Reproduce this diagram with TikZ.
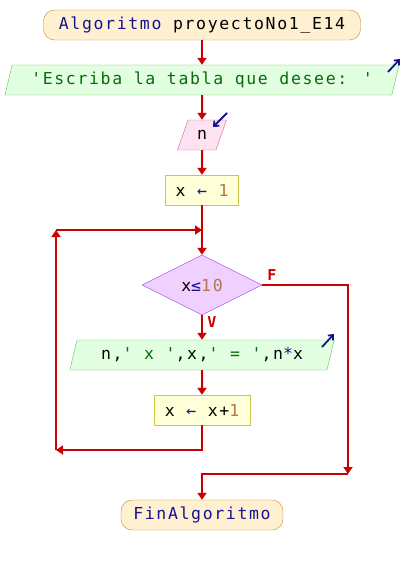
\documentclass[tikz,border=0pt]{standalone}
\usepackage{fontspec}
\usepackage{xcolor}
\usetikzlibrary{shapes.geometric}
\usetikzlibrary{arrows.meta}
\newfontfamily\psfont[Ligatures=TeXOff,LetterSpace=10]{DejaVu Sans Mono}
\definecolor{kwblue}{HTML}{14148C}
\definecolor{numbrown}{HTML}{B07850}
\definecolor{strgreen}{HTML}{0A6A0A}
\definecolor{flowred}{HTML}{CC0000}
\definecolor{termfill}{HTML}{FFF0D2}
\definecolor{termline}{HTML}{C88A30}
\definecolor{outfill}{HTML}{E2FFE2}
\definecolor{outline}{HTML}{60C060}
\definecolor{infill}{HTML}{FFE2F2}
\definecolor{inline}{HTML}{D06090}
\definecolor{setfill}{HTML}{FFFFD8}
\definecolor{setline}{HTML}{C8C848}
\definecolor{condfill}{HTML}{F0D0FF}
\definecolor{condline}{HTML}{A050E0}
\newcommand{\kw}[1]{{\color{kwblue}#1}}
\newcommand{\num}[1]{{\color{numbrown}#1}}
\newcommand{\str}[1]{{\color{strgreen}#1}}
\newcommand{\q}{\char"27\relax}

\begin{document}
\begin{tikzpicture}[x=1pt,y=-1pt,
    every node/.style={font=\psfont\fontsize{16.5}{18}\selectfont,inner sep=0pt},
    term/.style={draw=termline,fill=termfill,rounded corners=11pt,minimum height=30pt},
    outbox/.style={trapezium,trapezium left angle=68,trapezium right angle=112,
      trapezium stretches=true,draw=outline,fill=outfill,minimum height=30pt},
    inbox/.style={outbox,draw=inline,fill=infill},
    setbox/.style={rectangle,draw=setline,fill=setfill,minimum height=30pt},
    condbox/.style={diamond,draw=condline,fill=condfill,minimum width=120pt,minimum height=60pt},
    flow/.style={draw=flowred,line width=2pt,-{Triangle[width=9pt,length=7pt]}},
    flowline/.style={draw=flowred,line width=2pt},
    icon/.style={draw=kwblue,line width=1.8pt,-{Straight Barb[length=4pt,width=7pt]}},
    tag/.style={text=flowred,font=\psfont\bfseries\fontsize{15}{16}\selectfont}
  ]
    \useasboundingbox (0,0) rectangle (404,565);

    % blocks
    \node[term,minimum width=317pt] (start) at (202,25) {\kw{Algoritmo} proyectoNo1\_E14};
    \node[outbox,minimum width=396pt] (out1) at (202,80) {\str{\q Escriba la tabla que desee: \q}};
    \node[inbox,minimum width=49pt] (in1) at (202,135) {n};
    \node[setbox,minimum width=73pt] (set1) at (202,190) {x \kw{←} \num{1}};
    \node[condbox] (cond) at (202,285) {x\kw{≤}\num{10}};
    \node[outbox,minimum width=265pt] (out2) at (202,355) {n,\str{\q{} x \q},x,\str{\q{} = \q},n\kw{*}x};
    \node[setbox,minimum width=96pt] (inc) at (202,410) {x \kw{←} x+\num{1}};
    \node[term,minimum width=162pt] (fin) at (202,515) {\kw{FinAlgoritmo}};

    % corner points
    \coordinate (join) at (202,230);
    \coordinate (loopB) at (56,450);
    \coordinate (loopT) at (56,230);
    \coordinate (exitB) at (348,474);

    % connectors
    \draw[flow] (start) -- (out1);
    \draw[flow] (out1) -- (in1);
    \draw[flow] (in1) -- (set1);
    \draw[flowline] (set1) -- (join);
    \draw[flow] (join) -- (cond);
    \draw[flow] (cond) -- (out2);
    \draw[flow] (out2) -- (inc);
    \draw[flow] (inc) |- (loopB);
    \draw[flow] (loopB) -- (loopT);
    \draw[flow] (loopT) -- (join);
    \draw[flow] (cond.east) -| (exitB);
    \draw[flow] (exitB) -| (fin);

    % branch labels
    \node[tag] (lblF) at (272,275) {F};
    \node[tag] (lblV) at (212,322) {V};

    % in/out marks
    \draw[icon] (388,72) -- (400,59);
    \draw[icon] (227,113) -- (213,127);
    \draw[icon] (322,347) -- (334,334);
  \end{tikzpicture}
\end{document}
